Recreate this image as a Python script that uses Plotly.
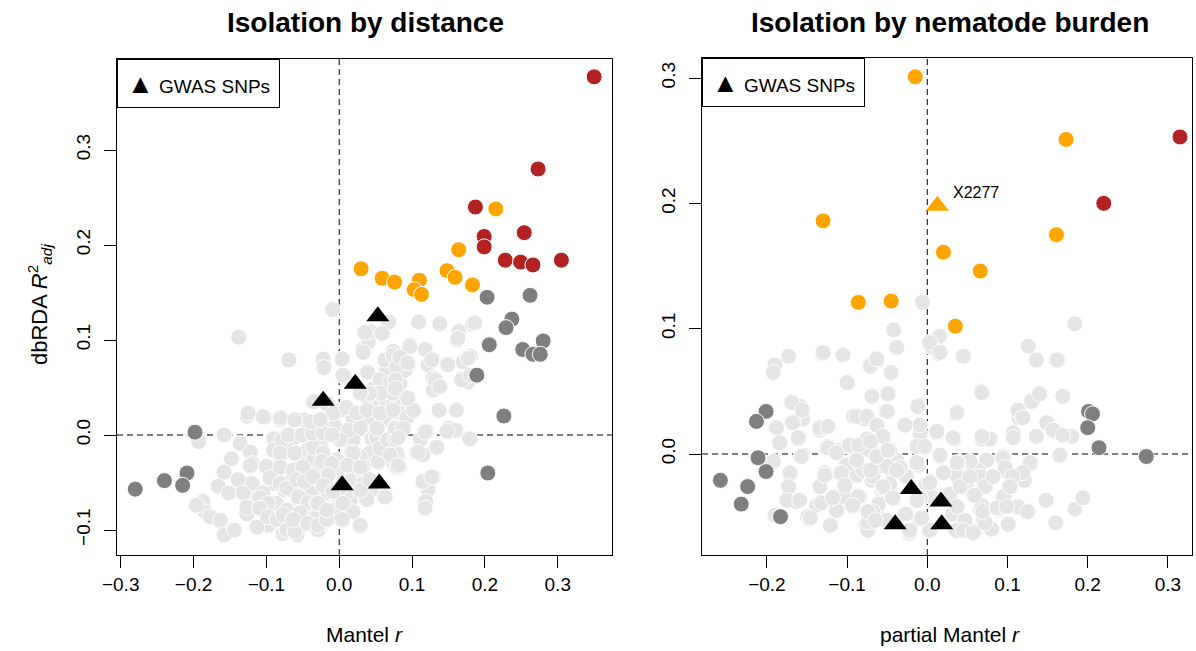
import plotly.graph_objects as go

# ---------------- Left panel: Isolation by distance ----------------
L_gray = [
    (-0.009, 0.132), (-0.138, 0.103), (-0.069, 0.079), (-0.022, 0.080), (-0.021, 0.071),
    (0.004, 0.080), (0.008, 0.061), (0.039, 0.066), (0.032, 0.090), (0.040, 0.098),
    (0.042, 0.109), (0.060, 0.107), (0.068, 0.119), (0.110, 0.119), (0.138, 0.117),
    (0.164, 0.109), (0.162, 0.100), (0.183, 0.116), (0.187, 0.117), (0.097, 0.095),
    (0.118, 0.090), (0.084, 0.083), (0.064, 0.079), (0.074, 0.088), (0.095, 0.075),
    (0.122, 0.074), (0.129, 0.079), (0.150, 0.074), (0.170, 0.077), (0.180, 0.083),
    (0.170, 0.060), (0.177, 0.056), (0.129, 0.060), (0.138, 0.051), (0.072, 0.060),
    (0.061, 0.054), (0.074, 0.050), (0.056, 0.042), (0.083, 0.040), (0.095, 0.039),
    (0.090, 0.030), (0.061, 0.021), (0.038, 0.040), (0.029, 0.023), (0.024, 0.012),
    (0.033, 0.009), (0.051, 0.012), (0.070, 0.016), (0.086, 0.007), (0.077, 0.009),
    (0.137, 0.026), (0.161, 0.026), (0.150, 0.007), (0.160, 0.005), (0.179, -0.004),
    (0.120, 0.004), (0.111, -0.005), (0.134, -0.013), (0.106, -0.018), (0.115, -0.021),
    (0.081, -0.021), (0.070, -0.014), (0.054, -0.011), (0.045, -0.004), (0.019, -0.005),
    (0.083, -0.033), (0.054, -0.029), (0.033, -0.033), (0.017, -0.018), (0.019, -0.044),
    (0.115, -0.049), (0.129, -0.044), (0.122, -0.058), (0.119, -0.070), (0.118, -0.077),
    (0.064, -0.065), (0.038, -0.065), (0.015, -0.070), (0.005, -0.090), (0.028, -0.096),
    (-0.019, -0.091), (-0.029, -0.100), (-0.008, -0.058), (-0.012, -0.040), (-0.003, -0.026),
    (-0.024, -0.030), (-0.035, -0.037), (-0.026, -0.011), (-0.035, 0.002), (-0.008, 0.021),
    (-0.006, 0.009), (-0.017, 0.033), (-0.035, 0.035), (0.001, 0.026), (-0.049, 0.000),
    (-0.061, 0.016), (-0.072, 0.000), (-0.081, 0.016), (-0.090, -0.004), (-0.103, 0.018),
    (-0.126, 0.020), (-0.158, 0.000), (-0.193, -0.007), (-0.136, -0.009), (-0.122, -0.018),
    (-0.148, -0.025), (-0.158, -0.039), (-0.166, -0.054), (-0.187, -0.070), (-0.184, -0.081),
    (-0.177, -0.086), (-0.163, -0.090), (-0.158, -0.105), (-0.144, -0.100), (-0.129, -0.063),
    (-0.127, -0.083), (-0.120, -0.051), (-0.120, -0.030), (-0.110, -0.072), (-0.100, -0.084),
    (-0.097, -0.095), (-0.079, -0.088), (-0.077, -0.104), (-0.058, -0.105), (-0.065, -0.084),
    (-0.052, -0.095), (-0.045, -0.081), (-0.056, -0.067), (-0.075, -0.058), (-0.047, -0.051),
    (-0.063, -0.044), (-0.081, -0.033), (-0.090, -0.051), (-0.081, -0.021), (-0.062, -0.019),
    (-0.052, -0.028), (-0.043, -0.016), (-0.026, -0.047), (-0.038, -0.061), (-0.024, -0.072),
    (-0.030, -0.084), (-0.061, -0.002), (-0.024, 0.009), (-0.048, 0.016), (-0.073, -0.012),
    (-0.090, -0.016), (-0.100, -0.033), (-0.105, -0.061), (-0.086, -0.072), (0.047, 0.028),
    (0.056, 0.032), (0.065, 0.035), (0.083, 0.023), (0.074, -0.004), (0.051, -0.002),
    (0.063, -0.009), (0.038, 0.019), (0.019, 0.018), (0.013, 0.005), (0.083, 0.054),
    (0.090, 0.068), (0.065, 0.068), (0.056, 0.058), (0.047, 0.049), (0.074, 0.033),
    (0.093, 0.019), (0.102, 0.026), (0.070, -0.026), (0.042, -0.019), (0.029, -0.023),
    (0.024, -0.033), (0.013, -0.047), (0.033, -0.051), (0.044, -0.058), (0.010, -0.061),
    (-0.003, -0.072), (0.001, -0.056), (0.019, -0.081), (-0.012, -0.079), (-0.015, -0.061),
    (-0.040, -0.072), (-0.065, -0.058), (-0.118, -0.072), (-0.139, -0.047), (-0.152, -0.061),
    (-0.196, -0.074), (0.129, 0.047), (0.148, 0.004), (0.001, -0.005), (-0.001, -0.039),
    (-0.035, -0.025), (-0.054, -0.040), (-0.072, -0.079), (-0.113, -0.097),
    # denser core
    (-0.122, -0.032), (-0.132, -0.061), (-0.127, -0.076), (-0.109, -0.066), (-0.098, -0.072),
    (-0.109, -0.077), (-0.098, -0.086), (-0.085, -0.089), (-0.077, -0.084), (-0.072, -0.100),
    (-0.061, -0.102), (-0.079, -0.005), (-0.070, 0.000), (-0.051, 0.000), (-0.081, -0.019),
    (-0.061, -0.019), (-0.081, -0.034), (-0.063, -0.037), (-0.050, -0.034), (-0.095, -0.045),
    (-0.081, -0.051), (-0.072, -0.056), (-0.058, -0.047), (-0.047, -0.049), (-0.036, -0.044),
    (-0.056, -0.065), (-0.043, -0.071), (-0.031, -0.072), (-0.054, -0.082), (-0.063, -0.089),
    (-0.043, -0.093), (-0.029, -0.095), (-0.017, -0.089), (-0.036, -0.013), (-0.022, -0.019),
    (-0.024, -0.028), (-0.010, -0.030), (-0.037, 0.002), (-0.022, 0.002), (-0.010, 0.000),
    (-0.015, -0.042), (-0.022, -0.053), (-0.009, -0.060), (-0.029, -0.072), (-0.017, -0.079),
    (0.005, -0.072), (0.004, -0.089), (0.029, -0.095), (0.019, -0.019), (0.011, -0.032),
    (0.029, -0.034), (0.029, 0.008), (0.052, 0.007), (0.038, -0.068), (0.029, -0.058),
    (0.042, -0.047), (0.053, -0.028), (0.074, -0.029), (0.056, -0.014), (0.067, -0.005),
    (0.063, -0.065), (0.079, -0.034), (0.079, -0.019), (0.077, -0.005), (0.079, 0.008),
    (0.005, 0.063), (0.033, 0.087), (0.035, 0.108), (0.059, 0.107), (0.063, 0.079),
    (0.074, 0.084), (0.079, 0.072), (0.056, 0.058), (0.070, 0.055), (0.074, 0.044),
    (0.056, 0.044), (0.042, 0.044), (0.029, 0.044), (-0.008, 0.023), (0.010, 0.029),
    (0.024, 0.023), (0.038, 0.026), (0.056, 0.023), (0.074, 0.026), (-0.125, 0.023),
    (-0.104, 0.019), (-0.081, 0.018), (-0.061, 0.016), (-0.040, 0.014), (-0.026, 0.016),
    (0.109, 0.119), (0.186, 0.118), (0.163, 0.102), (0.177, 0.081), (0.097, 0.093),
    (0.083, 0.082), (0.094, 0.076), (0.127, 0.079), (0.149, 0.074), (0.077, 0.058),
    (0.077, 0.049), (0.094, 0.039), (0.132, 0.058), (0.138, 0.051), (0.168, 0.058),
    (0.180, 0.063), (0.118, 0.003), (0.108, -0.018), (0.077, 0.007), (0.088, 0.007),
    (0.081, -0.003), (0.070, -0.021), (0.081, -0.032), (0.115, -0.049), (0.127, -0.044),
]
L_dark = [
    (0.203, 0.145), (0.262, 0.147), (0.237, 0.122), (0.229, 0.113), (0.206, 0.095),
    (0.280, 0.099), (0.252, 0.090), (0.266, 0.085), (0.276, 0.085), (0.189, 0.063),
    (0.226, 0.020), (0.204, -0.040), (-0.198, 0.003), (-0.209, -0.040), (-0.240, -0.048),
    (-0.215, -0.053), (-0.280, -0.057),
]
L_orange = [
    (0.215, 0.238), (0.164, 0.195), (0.030, 0.175), (0.059, 0.165), (0.076, 0.161),
    (0.110, 0.163), (0.103, 0.153), (0.113, 0.148), (0.148, 0.173), (0.159, 0.166),
    (0.183, 0.158),
]
L_red = [
    (0.350, 0.377), (0.273, 0.280), (0.187, 0.240), (0.199, 0.209), (0.199, 0.198),
    (0.254, 0.213), (0.228, 0.184), (0.249, 0.182), (0.266, 0.179), (0.305, 0.184),
]
L_gwas = [(0.053, 0.125), (0.022, 0.054), (-0.022, 0.036), (0.004, -0.053), (0.055, -0.051)]

# ---------------- Right panel: Isolation by nematode burden ----------------
R_gray = [
    (-0.006, 0.121), (0.184, 0.104), (-0.042, 0.099), (0.015, 0.094), (0.007, 0.085),
    (0.014, 0.080), (0.044, 0.078), (-0.038, 0.085), (0.126, 0.086), (0.136, 0.075),
    (0.162, 0.075), (-0.131, 0.080), (-0.105, 0.079), (-0.173, 0.078), (-0.190, 0.071),
    (-0.192, 0.065), (-0.072, 0.071), (-0.062, 0.075), (-0.045, 0.065), (-0.099, 0.057),
    (-0.069, 0.046), (-0.049, 0.048), (0.067, 0.050), (0.130, 0.042), (0.140, 0.048),
    (0.169, 0.046), (-0.170, 0.041), (-0.159, 0.038), (-0.155, 0.028), (-0.167, 0.025),
    (-0.188, 0.020), (-0.161, 0.012), (-0.183, 0.008), (-0.157, -0.002), (-0.192, -0.006),
    (-0.172, -0.016), (-0.172, -0.026), (-0.173, -0.037), (-0.159, -0.037), (-0.188, -0.048),
    (-0.148, -0.052), (-0.121, -0.057), (-0.134, -0.026), (-0.134, 0.019), (-0.123, 0.022),
    (-0.126, 0.005), (-0.113, 0.003), (-0.092, 0.030), (-0.078, 0.028), (-0.063, 0.023),
    (-0.052, 0.034), (-0.055, 0.014), (-0.088, 0.006), (-0.088, -0.005), (-0.072, 0.003),
    (-0.047, 0.004), (-0.028, 0.023), (-0.009, 0.023), (-0.011, 0.039), (0.012, 0.017),
    (-0.003, 0.005), (0.036, 0.032), (0.034, 0.012), (0.016, -0.002), (-0.013, -0.008),
    (0.037, -0.008), (0.068, 0.012), (0.078, 0.012), (0.106, 0.016), (0.114, 0.029),
    (0.113, 0.035), (0.136, 0.014), (0.158, 0.018), (0.180, 0.014), (0.165, -0.001),
    (0.129, -0.008), (0.096, -0.002), (0.096, -0.012), (0.116, -0.017), (0.121, -0.021),
    (0.104, -0.026), (0.074, -0.005), (0.063, -0.013), (0.073, -0.026), (0.058, -0.033),
    (0.066, -0.044), (0.070, -0.053), (0.059, -0.062), (0.080, -0.060), (0.089, -0.045),
    (0.101, -0.056), (0.111, -0.042), (0.126, -0.046), (0.148, -0.037), (0.184, -0.044),
    (0.194, -0.035), (0.160, -0.055), (0.037, -0.016), (0.040, -0.024), (0.028, -0.032),
    (0.032, -0.048), (0.037, -0.061), (0.003, -0.061), (-0.022, -0.064), (-0.009, -0.052),
    (-0.027, -0.048), (-0.042, -0.036), (-0.057, -0.029), (-0.045, -0.013), (-0.065, -0.012),
    (-0.088, -0.017), (-0.107, -0.016), (-0.103, -0.024), (-0.117, -0.034), (-0.092, -0.042),
    (-0.065, -0.046), (-0.076, -0.056), (-0.074, -0.061), (-0.051, -0.053), (-0.084, -0.034),
    (-0.069, -0.021), (-0.126, -0.016), (-0.138, -0.041), (-0.113, -0.045), (-0.009, 0.016),
    (-0.001, -0.024), (0.005, -0.034), (-0.011, -0.009), (-0.026, -0.018), (0.053, -0.006),
    (0.049, -0.024), (0.047, -0.053), (0.095, -0.034), (0.066, -0.018), (-0.038, -0.005),
    (-0.047, -0.024), (-0.061, -0.040), (-0.101, -0.009), (-0.071, 0.070), (0.006, 0.085),
    (-0.124, 0.006), (-0.088, 0.007), (-0.097, 0.006), (-0.075, 0.012), (-0.155, -0.001),
    (-0.175, -0.036), (-0.163, -0.038), (-0.149, -0.050), (-0.190, -0.049), (-0.128, -0.015),
    (-0.109, -0.015), (-0.118, -0.035), (-0.105, -0.034), (-0.132, -0.039), (-0.093, -0.042),
    (-0.080, -0.013), (-0.068, -0.018), (-0.050, -0.010), (-0.034, -0.011), (-0.056, -0.027),
    (-0.043, -0.035), (-0.068, -0.046), (-0.074, -0.054), (0.003, -0.022), (-0.009, -0.035),
    (-0.007, -0.051), (-0.022, -0.063), (0.149, 0.025), (0.157, 0.019), (0.169, 0.015),
    (0.107, 0.017), (0.033, 0.012), (0.094, -0.002), (0.128, -0.007), (0.119, -0.015),
    (0.097, -0.013), (0.038, -0.009), (0.072, -0.026), (0.103, -0.026), (0.057, -0.033),
    (0.068, -0.041), (0.088, -0.044), (0.113, -0.042), (0.125, -0.046), (0.072, -0.055),
    (0.036, -0.061), (-0.063, 0.076), (-0.130, 0.081),
    # denser core
    (-0.100, 0.057), (-0.012, 0.038), (-0.050, 0.034), (0.003, 0.089), (0.016, 0.081),
    (0.045, 0.078), (0.068, 0.049), (0.037, 0.033), (-0.169, 0.041), (-0.156, 0.035),
    (-0.168, 0.025), (-0.188, 0.021), (-0.184, 0.009), (-0.161, 0.013), (-0.134, 0.021),
    (-0.124, 0.022), (-0.124, 0.005), (-0.113, 0.001), (-0.157, -0.002), (-0.088, 0.030),
    (-0.075, 0.030), (-0.063, 0.023), (-0.055, 0.014), (-0.028, 0.023), (-0.009, 0.023),
    (-0.097, 0.007), (-0.086, 0.007), (-0.071, 0.010), (-0.047, 0.003), (-0.013, 0.006),
    (-0.003, 0.006), (0.012, 0.018), (0.032, 0.013), (0.016, -0.001), (0.038, -0.007),
    (0.037, -0.017), (0.068, 0.014), (0.094, -0.003), (0.097, -0.011), (0.106, -0.018),
    (0.107, 0.013), (0.119, 0.029), (-0.171, -0.015), (-0.173, -0.026), (-0.175, -0.037),
    (-0.159, -0.037), (-0.146, -0.051), (-0.121, -0.057), (-0.134, -0.026), (-0.118, -0.035),
    (-0.128, -0.017), (-0.107, -0.015), (-0.103, -0.025), (-0.086, -0.034), (-0.093, -0.041),
    (-0.088, -0.005), (-0.071, -0.013), (-0.063, -0.002), (-0.049, 0.003), (-0.038, -0.013),
    (-0.055, -0.026), (-0.043, -0.035), (-0.074, -0.046), (-0.065, -0.053), (-0.013, -0.007),
    (0.003, -0.023), (-0.013, -0.037), (-0.022, -0.061), (0.020, -0.015), (0.037, -0.007),
    (0.041, -0.026), (0.053, -0.018), (0.059, -0.033), (0.037, -0.042), (0.045, -0.061),
    (0.057, -0.063), (0.069, -0.046), (0.087, -0.043), (0.099, -0.042), (0.103, -0.026),
    (0.082, -0.018),
]
R_dark = [
    (-0.201, 0.034), (-0.213, 0.026), (-0.211, -0.003), (-0.201, -0.014), (-0.258, -0.021),
    (-0.224, -0.026), (-0.232, -0.040), (-0.183, -0.050), (0.201, 0.034), (0.206, 0.032),
    (0.200, 0.021), (0.214, 0.005), (0.273, -0.002),
]
R_orange = [
    (-0.015, 0.301), (0.173, 0.251), (-0.130, 0.186), (0.161, 0.175), (0.020, 0.161),
    (0.066, 0.146), (-0.086, 0.121), (-0.045, 0.122), (0.035, 0.102),
]
R_red = [(0.315, 0.253), (0.220, 0.200)]
R_gwas = [(-0.020, -0.028), (0.017, -0.038), (-0.040, -0.056), (0.018, -0.056)]
R_label_point = (0.0125, 0.198)
R_label_text = "X2277"

# tick values
L_xticks = [-0.3, -0.2, -0.1, 0.0, 0.1, 0.2, 0.3]
L_yticks = [-0.1, 0.0, 0.1, 0.2, 0.3]
R_xticks = [-0.2, -0.1, 0.0, 0.1, 0.2, 0.3]
R_yticks = [0.0, 0.1, 0.2, 0.3]

W, H = 1196, 651
FONT = "Liberation Sans, Arial, Helvetica, sans-serif"
LIGHT, DARK, ORANGE, RED = "#E5E5E5", "#7F7F7F", "#FFA500", "#B22222"
PT = 16

fig = go.Figure()


def add_pts(pts, color, xa, ya, symbol="circle", size=PT, outline="white", lw=1):
    fig.add_trace(go.Scatter(
        x=[p[0] for p in pts], y=[p[1] for p in pts], mode="markers",
        xaxis=xa, yaxis=ya, showlegend=False, hoverinfo="skip",
        marker=dict(color=color, size=size, symbol=symbol,
                    line=dict(color=outline, width=lw)),
    ))


for xa, ya, g, d, o, r, t in [("x", "y", L_gray, L_dark, L_orange, L_red, L_gwas),
                              ("x2", "y2", R_gray, R_dark, R_orange, R_red, R_gwas)]:
    add_pts(g, LIGHT, xa, ya)
    add_pts(d, DARK, xa, ya)
    add_pts(o, ORANGE, xa, ya)
    add_pts(r, RED, xa, ya)
    add_pts(t, "black", xa, ya, symbol="triangle-up", size=20, lw=0)

add_pts([R_label_point], ORANGE, "x2", "y2", symbol="triangle-up", size=20, lw=0)


def px_x(p):
    return p / W


def px_y(p):
    return 1 - p / H


axis_common = dict(showgrid=False, zeroline=False, showline=True, linecolor="black",
                   linewidth=1, mirror=True, ticks="outside", ticklen=12,
                   tickcolor="black", tickwidth=1, tickformat=".1f", automargin=False,
                   tickfont=dict(family=FONT, size=19, color="black"))

fig.update_layout(
    width=W, height=H, autosize=False,
    margin=dict(l=0, r=0, t=0, b=0, pad=0, autoexpand=False),
    paper_bgcolor="white", plot_bgcolor="white", showlegend=False,
    xaxis=dict(domain=[px_x(117), px_x(612)], range=[-0.3051, 0.3745],
               tickvals=L_xticks, anchor="y", **axis_common),
    yaxis=dict(domain=[px_y(555), px_y(59)], range=[-0.1263, 0.3958],
               tickvals=L_yticks, anchor="x", tickangle=-90, ticklabelstandoff=6,
               **axis_common),
    xaxis2=dict(domain=[px_x(702), px_x(1192)], range=[-0.2809, 0.330],
                tickvals=R_xticks, anchor="y2", **axis_common),
    yaxis2=dict(domain=[px_y(555), px_y(58)], range=[-0.0806, 0.316],
                tickvals=R_yticks, anchor="x2", tickangle=-90, ticklabelstandoff=6,
                **axis_common),
)

# dashed reference lines at zero
shapes = []
for xr, yr in [("x", "y"), ("x2", "y2")]:
    shapes.append(dict(type="line", xref=xr, yref=yr + " domain", x0=0, x1=0, y0=0, y1=1,
                       line=dict(color="black", width=1, dash="6px,4px"), layer="below"))
    shapes.append(dict(type="line", xref=xr + " domain", yref=yr, x0=0, x1=1, y0=0, y1=0,
                       line=dict(color="black", width=1, dash="6px,4px"), layer="below"))
fig.update_layout(shapes=shapes)


def label(text, x, y, size, angle=0):
    return dict(text=text, x=px_x(x), y=px_y(y), xref="paper", yref="paper",
                xanchor="center", yanchor="middle", showarrow=False, textangle=angle,
                font=dict(family=FONT, size=size, color="black"))


ann = [
    label("<b>Isolation by distance</b>", 365, 22, 28),
    label("<b>Isolation by nematode burden</b>", 950, 22, 28),
    label("Mantel <i>r</i>", 364, 634, 21),
    label("partial Mantel <i>r</i>", 950, 634, 21),
    label("dbRDA <i>R</i><sup>2</sup><sub><i>adj</i></sub>", 40, 305, 22, angle=-90),
]
# legend boxes
for lx, ly in [(117, 59), (702, 58)]:
    ann.append(dict(text='<span style="font-size:27px">▲</span> GWAS SNPs',
                    x=px_x(lx), y=px_y(ly), xref="paper", yref="paper", xanchor="left",
                    yanchor="top", showarrow=False, width=161, height=47, borderpad=0,
                    align="center", valign="middle", bgcolor="white",
                    bordercolor="black", borderwidth=1,
                    font=dict(family=FONT, size=19, color="black")))
# point label
ann.append(dict(text=R_label_text, x=R_label_point[0], y=R_label_point[1], xref="x2", yref="y2",
                xanchor="left", yanchor="middle", xshift=14, yshift=13, showarrow=False,
                font=dict(family=FONT, size=16, color="black")))
fig.update_layout(annotations=ann)

fig.write_html("out.html")
